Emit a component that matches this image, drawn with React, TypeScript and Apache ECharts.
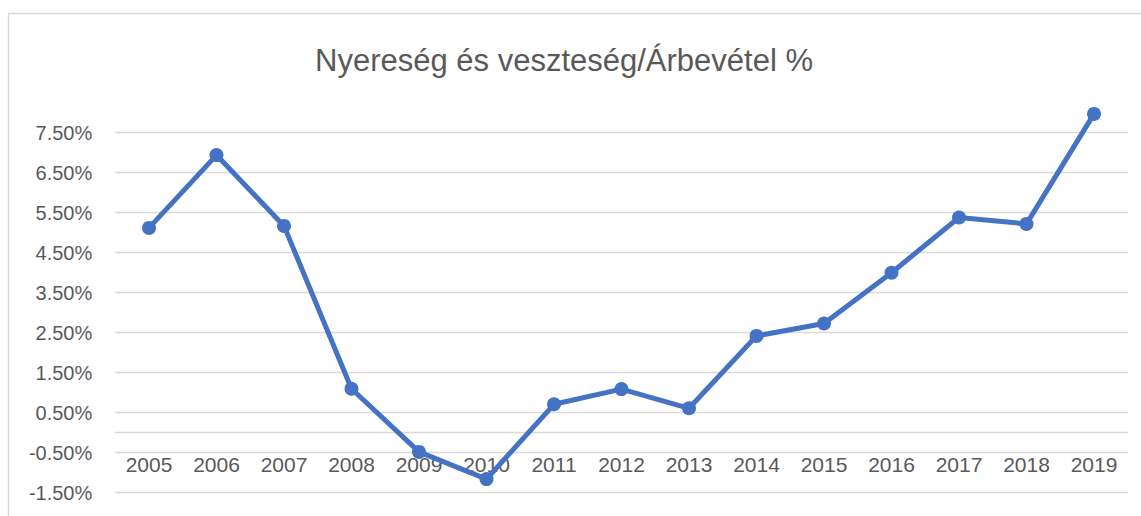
import React, { useEffect, useRef } from "react";
import * as echarts from "echarts";

const titleText = "Nyereség és veszteség/Árbevétel %";
const years = ["2005", "2006", "2007", "2008", "2009", "2010", "2011", "2012", "2013", "2014", "2015", "2016", "2017", "2018", "2019"];
const ratioValues = [5.12, 6.94, 5.17, 1.1, -0.48, -1.16, 0.71, 1.09, 0.61, 2.42, 2.73, 4.0, 5.38, 5.22, 7.97];
const yTickValues = [-1.5, -0.5, 0.5, 1.5, 2.5, 3.5, 4.5, 5.5, 6.5, 7.5];

export default function App() {
  const ref = useRef<HTMLDivElement>(null);
  useEffect(() => {
    if (!ref.current) return;
    const chart = echarts.init(ref.current, null, { renderer: "svg" });
    const font = "'Liberation Sans', Arial, sans-serif";
    chart.setOption({
      animation: false,
      backgroundColor: "#ffffff",
      title: {
        text: titleText,
        left: 559,
        top: 40,
        textAlign: "center",
        textStyle: { fontFamily: font, fontSize: 31, fontWeight: "normal", color: "#595959" },
      },
      graphic: [
        {
          type: "rect",
          shape: { x: 8.5, y: 13.5, width: 1300, height: 700 },
          style: { fill: "none", stroke: "#d9d9d9", lineWidth: 1.3 },
          silent: true,
        },
      ],
      grid: { left: 115.25, right: 13.25, top: 112.7, bottom: 23.3, outerBoundsMode: "none", containLabel: false },
      xAxis: {
        type: "category",
        data: years,
        boundaryGap: true,
        axisLine: { onZero: true, lineStyle: { color: "#d9d9d9", width: 1.3 } },
        axisTick: { show: false },
        axisLabel: { color: "#595959", fontFamily: font, fontSize: 21, margin: -39 },
      },
      yAxis: {
        type: "value",
        min: -1.5,
        max: 8,
        axisLine: { show: false },
        axisTick: { show: false, customValues: yTickValues },
        axisLabel: {
          customValues: yTickValues,
          color: "#595959",
          fontFamily: font,
          fontSize: 20,
          margin: 23,
          formatter: (v: number) => v.toFixed(2) + "%",
        },
        splitLine: { show: true, lineStyle: { color: "#d9d9d9", width: 1.3 } },
      },
      series: [
        {
          type: "line",
          data: ratioValues,
          symbol: "circle",
          symbolSize: 14,
          lineStyle: { color: "#4472c4", width: 5 },
          itemStyle: { color: "#4472c4" },
          clip: false,
        },
      ],
    });
    return () => chart.dispose();
  }, []);
  return <div ref={ref} style={{ position: "absolute", left: 0, top: 0, width: 1141, height: 516 }} />;
}
